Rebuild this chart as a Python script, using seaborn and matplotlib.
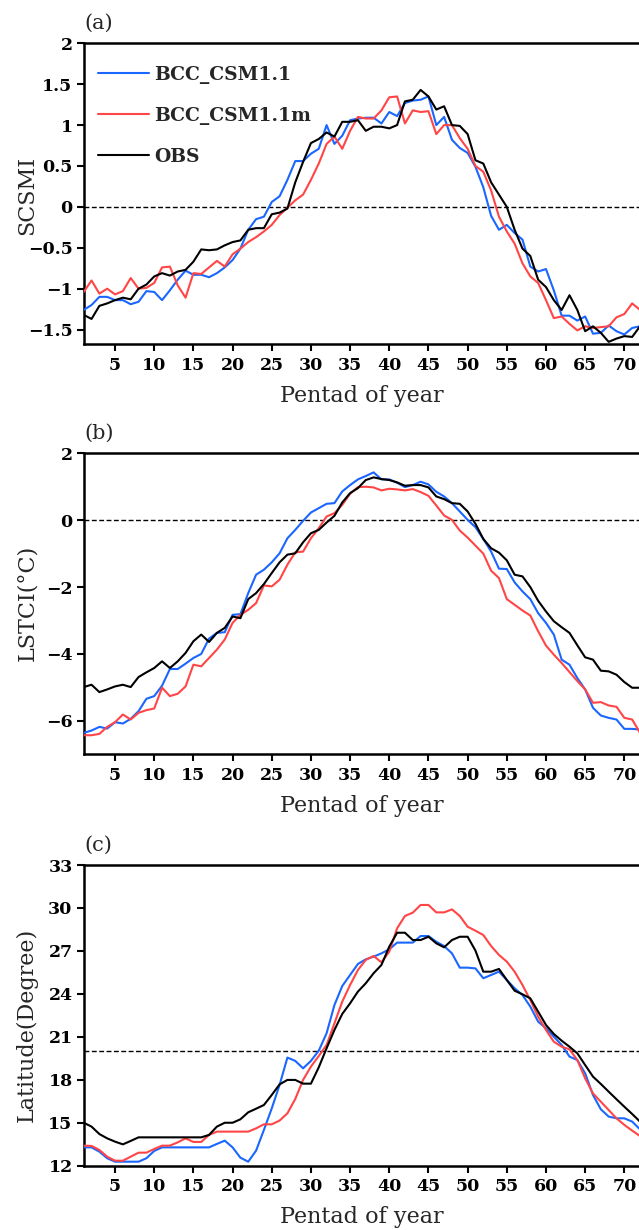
import numpy as np
import pandas as pd
import matplotlib
matplotlib.use("Agg")
import matplotlib.pyplot as plt
import seaborn as sns

pentad = list(range(1, 73))
series_names = ["BCC_CSM1.1", "BCC_CSM1.1m", "OBS"]
series_colors = ["#1a66ff", "#ff4545", "#000000"]

# (a) SCSMI
scsmi_bcc = [-1.26, -1.20, -1.10, -1.10, -1.14, -1.14, -1.19, -1.16, -1.03, -1.04,
             -1.14, -1.02, -0.89, -0.78, -0.83, -0.83, -0.86, -0.81, -0.74, -0.65,
             -0.51, -0.28, -0.15, -0.12, 0.06, 0.13, 0.33, 0.56, 0.56, 0.65,
             0.71, 1.00, 0.77, 0.87, 1.06, 1.08, 1.09, 1.09, 1.02, 1.16,
             1.11, 1.27, 1.30, 1.31, 1.35, 1.00, 1.10, 0.82, 0.72, 0.66,
             0.49, 0.24, -0.11, -0.28, -0.22, -0.32, -0.40, -0.73, -0.79, -0.76,
             -1.02, -1.33, -1.33, -1.39, -1.34, -1.55, -1.54, -1.45, -1.52, -1.56,
             -1.48, -1.46]
scsmi_bccm = [-1.04, -0.90, -1.06, -1.00, -1.07, -1.03, -0.87, -1.00, -0.99, -0.93,
              -0.74, -0.73, -0.96, -1.11, -0.81, -0.82, -0.74, -0.66, -0.73, -0.58,
              -0.51, -0.43, -0.37, -0.30, -0.22, -0.10, -0.01, 0.08, 0.15, 0.33,
              0.53, 0.77, 0.86, 0.71, 0.93, 1.10, 1.08, 1.08, 1.18, 1.34,
              1.35, 1.02, 1.18, 1.16, 1.17, 0.89, 1.00, 1.00, 0.84, 0.71,
              0.50, 0.43, 0.20, -0.12, -0.30, -0.45, -0.69, -0.85, -0.93, -1.14,
              -1.36, -1.34, -1.43, -1.51, -1.46, -1.48, -1.47, -1.46, -1.35, -1.31,
              -1.18, -1.26]
scsmi_obs = [-1.32, -1.37, -1.21, -1.18, -1.14, -1.11, -1.13, -1.00, -0.95, -0.85,
             -0.81, -0.84, -0.79, -0.77, -0.67, -0.52, -0.53, -0.52, -0.47, -0.43,
             -0.41, -0.28, -0.26, -0.26, -0.09, -0.07, -0.02, 0.30, 0.55, 0.78,
             0.83, 0.91, 0.86, 1.04, 1.04, 1.06, 0.93, 0.98, 0.98, 0.96,
             1.00, 1.29, 1.31, 1.43, 1.35, 1.19, 1.23, 1.00, 0.99, 0.89,
             0.57, 0.53, 0.30, 0.15, 0.00, -0.28, -0.51, -0.60, -0.89, -0.98,
             -1.14, -1.26, -1.08, -1.26, -1.52, -1.46, -1.54, -1.65, -1.61, -1.58,
             -1.59, -1.46]

# (b) LSTCI
lstci_bcc = [-6.36, -6.29, -6.18, -6.23, -6.04, -6.08, -5.94, -5.71, -5.34, -5.26,
             -4.95, -4.45, -4.45, -4.29, -4.12, -4.00, -3.54, -3.37, -3.35, -2.83,
             -2.81, -2.18, -1.63, -1.48, -1.26, -0.99, -0.54, -0.29, -0.02, 0.23,
             0.36, 0.49, 0.51, 0.86, 1.05, 1.22, 1.32, 1.43, 1.22, 1.22,
             1.12, 0.99, 1.05, 1.15, 1.07, 0.85, 0.71, 0.51, 0.26, 0.01,
             -0.21, -0.56, -0.94, -1.45, -1.46, -1.86, -2.13, -2.36, -2.78, -3.07,
             -3.42, -4.17, -4.32, -4.72, -5.06, -5.61, -5.84, -5.91, -5.96, -6.24,
             -6.24, -6.26]
lstci_bccm = [-6.43, -6.43, -6.39, -6.18, -6.04, -5.81, -5.96, -5.76, -5.68, -5.63,
              -5.01, -5.26, -5.19, -4.97, -4.32, -4.37, -4.12, -3.87, -3.57, -3.07,
              -2.83, -2.68, -2.48, -1.95, -1.98, -1.78, -1.33, -0.96, -0.94, -0.54,
              -0.24, 0.11, 0.21, 0.46, 0.79, 0.99, 1.00, 0.98, 0.89, 0.94,
              0.92, 0.89, 0.93, 0.84, 0.73, 0.44, 0.14, 0.01, -0.31, -0.52,
              -0.76, -1.00, -1.51, -1.73, -2.36, -2.53, -2.70, -2.85, -3.32, -3.75,
              -4.02, -4.27, -4.54, -4.81, -5.06, -5.46, -5.44, -5.54, -5.58, -5.91,
              -5.96, -6.36]
lstci_obs = [-4.99, -4.92, -5.14, -5.06, -4.97, -4.92, -4.99, -4.69, -4.55, -4.42,
             -4.22, -4.42, -4.22, -3.97, -3.62, -3.42, -3.64, -3.37, -3.22, -2.88,
             -2.93, -2.36, -2.18, -1.91, -1.58, -1.26, -1.03, -0.99, -0.66, -0.39,
             -0.29, -0.07, 0.13, 0.53, 0.81, 0.96, 1.20, 1.28, 1.23, 1.20,
             1.13, 1.03, 1.05, 1.05, 0.98, 0.71, 0.63, 0.51, 0.49, 0.26,
             -0.11, -0.56, -0.84, -0.97, -1.20, -1.63, -1.68, -2.00, -2.41, -2.73,
             -3.02, -3.20, -3.37, -3.74, -4.10, -4.17, -4.50, -4.52, -4.62, -4.84,
             -5.01, -5.01]

# (c) Latitude
lat_bcc = [13.28, 13.28, 12.98, 12.52, 12.28, 12.28, 12.28, 12.28, 12.52, 13.03,
           13.28, 13.28, 13.28, 13.28, 13.28, 13.28, 13.28, 13.52, 13.75, 13.28,
           12.56, 12.28, 13.05, 14.50, 16.00, 17.64, 19.55, 19.32, 18.80, 19.32,
           20.03, 21.25, 23.22, 24.55, 25.32, 26.09, 26.41, 26.60, 26.83, 27.11,
           27.58, 27.58, 27.58, 28.04, 28.04, 27.64, 27.34, 26.83, 25.83, 25.83,
           25.78, 25.09, 25.32, 25.55, 24.97, 24.39, 23.92, 23.11, 22.06, 21.60,
           21.01, 20.43, 19.62, 19.38, 18.45, 16.94, 15.94, 15.43, 15.31, 15.31,
           15.08, 14.54]
lat_bccm = [13.40, 13.38, 13.10, 12.63, 12.35, 12.35, 12.63, 12.91, 12.91, 13.17,
            13.40, 13.40, 13.63, 13.91, 13.66, 13.66, 14.15, 14.38, 14.38, 14.38,
            14.38, 14.38, 14.61, 14.89, 14.89, 15.15, 15.66, 16.66, 17.99, 18.92,
            19.66, 20.43, 21.94, 23.46, 24.62, 25.67, 26.37, 26.65, 26.20, 26.95,
            28.58, 29.44, 29.67, 30.21, 30.21, 29.69, 29.69, 29.90, 29.44, 28.69,
            28.41, 28.11, 27.34, 26.72, 26.25, 25.55, 24.62, 23.57, 22.41, 21.48,
            20.66, 20.31, 20.13, 19.38, 18.10, 17.05, 16.47, 15.89, 15.31, 14.85,
            14.45, 14.07]
lat_obs = [15.00, 14.73, 14.21, 13.91, 13.68, 13.49, 13.73, 13.98, 13.98, 13.98,
           13.98, 13.98, 13.98, 13.98, 13.98, 13.98, 14.15, 14.73, 15.00, 15.00,
           15.24, 15.73, 15.98, 16.24, 16.94, 17.68, 17.99, 17.99, 17.73, 17.73,
           18.87, 20.20, 21.48, 22.60, 23.34, 24.16, 24.74, 25.44, 26.02, 27.30,
           28.27, 28.27, 27.76, 27.76, 27.99, 27.53, 27.25, 27.76, 27.99, 27.99,
           27.02, 25.55, 25.55, 25.74, 24.97, 24.22, 23.97, 23.69, 22.76, 21.83,
           21.20, 20.73, 20.31, 19.85, 19.03, 18.22, 17.71, 17.17, 16.64, 16.12,
           15.61, 15.08]

xticks = [5, 10, 15, 20, 25, 30, 35, 40, 45, 50, 55, 60, 65, 70]
panel_labels = ["(a)", "(b)", "(c)"]
ylabels = ["SCSMI", "LSTCI(\u00b0C)", "Latitude(Degree)"]
xlabel = "Pentad of year"
yticks_a = [-1.5, -1, -0.5, 0, 0.5, 1, 1.5, 2]
yticks_a_lbl = ["\u22121.5", "\u22121", "\u22120.5", "0", "0.5", "1", "1.5", "2"]
yticks_b = [-6, -4, -2, 0, 2]
yticks_b_lbl = ["\u22126", "\u22124", "\u22122", "0", "2"]
yticks_c = [12, 15, 18, 21, 24, 27, 30, 33]
yticks_c_lbl = ["12", "15", "18", "21", "24", "27", "30", "33"]
ref_lines = [0, 0, 20]
ylims = [(-1.68, 2), (-7, 2), (12, 33)]

sns.set_theme(style="ticks")
plt.rcParams["font.family"] = ["DejaVu Serif"]
plt.rcParams["axes.unicode_minus"] = True

W, H = 639, 1230
fig = plt.figure(figsize=(W / 100, H / 100), dpi=100)

# axes boxes in pixels (left, top, right, bottom)
boxes = [(83.7, 43.3, 640.0, 344.3), (83.7, 453.3, 640.0, 754.3), (83.7, 865.0, 640.0, 1165.7)]
ylabel_y = [0.496, 0.503, 0.468]

panels = [
    (scsmi_bcc, scsmi_bccm, scsmi_obs, yticks_a, yticks_a_lbl),
    (lstci_bcc, lstci_bccm, lstci_obs, yticks_b, yticks_b_lbl),
    (lat_bcc, lat_bccm, lat_obs, yticks_c, yticks_c_lbl),
]

for i, (box, (s1, s2, s3, yt, ytl)) in enumerate(zip(boxes, panels)):
    l, t, r, b = box
    ax = fig.add_axes([l / W, 1 - b / H, (r - l) / W, (b - t) / H])
    df = pd.DataFrame({
        "pentad": pentad * 3,
        "value": s1 + s2 + s3,
        "series": [series_names[0]] * 72 + [series_names[1]] * 72 + [series_names[2]] * 72,
    })
    ax.axhline(ref_lines[i], color="black", lw=1.0, ls=(0, (3.5, 1.8)), zorder=1)
    sns.lineplot(data=df, x="pentad", y="value", hue="series", hue_order=series_names,
                 palette=series_colors, lw=1.5, ax=ax, legend=(i == 0), zorder=3)
    ax.set_xlim(1, 72)
    ax.set_ylim(*ylims[i])
    ax.set_xticks(xticks)
    ax.set_xticklabels([str(v) for v in xticks], fontweight="bold", fontsize=12.5)
    ax.set_yticks(yt)
    ax.set_yticklabels(ytl, fontweight="bold", fontsize=12.5)
    ax.tick_params(axis="x", direction="out", length=5, width=1.5, pad=4, colors="black")
    ax.tick_params(axis="y", direction="out", length=5, width=1.5, pad=3, colors="black")
    for sp in ax.spines.values():
        sp.set_linewidth(1.8)
        sp.set_color("black")
    ax.set_xlabel(xlabel, fontsize=16, va="center")
    ax.xaxis.set_label_coords(0.5, -0.172)
    ax.set_ylabel(ylabels[i], fontsize=16, va="center")
    ax.yaxis.set_label_coords(-0.102, ylabel_y[i])
    ax.text(0.002, 1.067, panel_labels[i], transform=ax.transAxes, fontsize=15,
            ha="left", va="center")
    if i == 0:
        leg = ax.legend(loc="upper left", bbox_to_anchor=(0.026, 0.925), frameon=False,
                        borderpad=0, borderaxespad=0, handlelength=2.7, handletextpad=0.3,
                        labelspacing=1.22, prop={"family": "DejaVu Serif", "weight": "bold", "size": 13.5})
        for ln in leg.get_lines():
            ln.set_linewidth(1.5)

fig.savefig("out.png", dpi=100)
